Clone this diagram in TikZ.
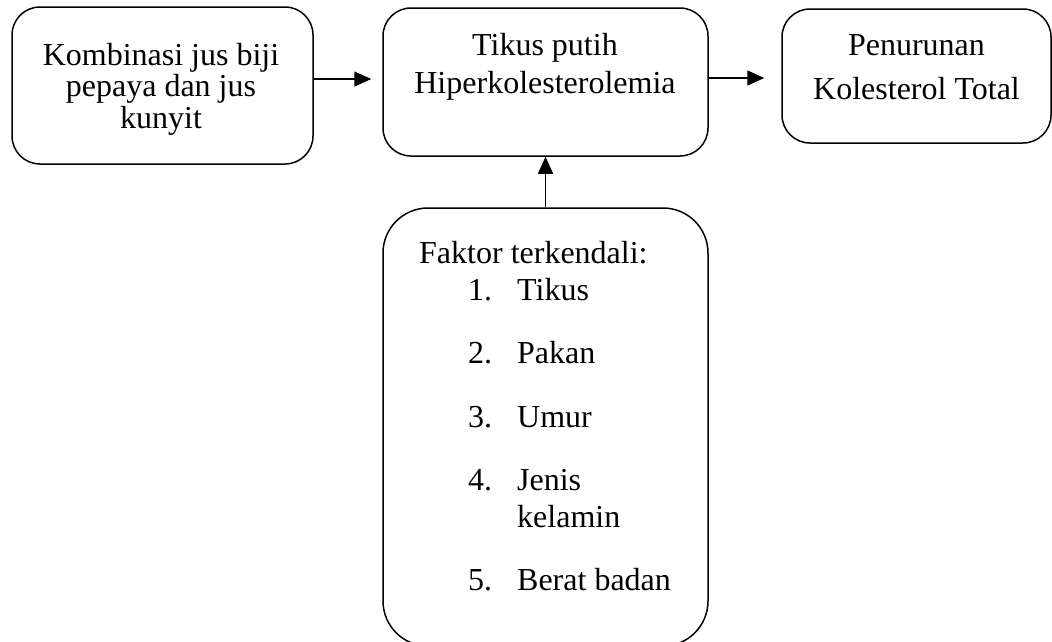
\documentclass[tikz,border=0pt]{standalone}
\usepackage{fontspec}
\setmainfont{Liberation Serif}
\usetikzlibrary{arrows.meta}
\begin{document}
\begin{tikzpicture}[x=1pt,y=-1pt,
  box/.style={draw, line width=1.5pt, rounded corners=28pt, inner sep=0pt},
  bigbox/.style={box, rounded corners=45pt},
  arr/.style={line width=1.5pt, -{Triangle[length=17pt,width=15pt]}},
  lbl/.style={inner sep=0pt, anchor=base, align=center},
  itm/.style={inner sep=0pt, anchor=base west, align=left, font=\fontsize{32}{37}\selectfont}]
\clip (0,0) rectangle (1052,641);
\useasboundingbox (0,0) rectangle (1052,641);
% boxes
\node[box, minimum width=301pt, minimum height=157pt] (b1) at (162.5,85.5) {};
\node[box, minimum width=325pt, minimum height=148pt] (b2) at (545.5,82) {};
\node[box, minimum width=269pt, minimum height=134pt] (b3) at (916.5,76) {};
\node[bigbox, minimum width=325pt, minimum height=438pt] (b4) at (545.5,427) {};
% texts (base anchor = baseline of last line)
\node[lbl, font=\fontsize{32}{31.5}\selectfont] (t1) at (161,128) {Kombinasi jus biji\\pepaya dan jus\\kunyit};
\node[lbl, font=\fontsize{32}{38}\selectfont] (t2) at (545,93) {Tikus putih\\Hiperkolesterolemia};
\node[lbl, font=\fontsize{32}{44}\selectfont] (t3) at (916.5,99) {Penurunan\\Kolesterol Total};
\node[itm] (f0) at (419,263) {Faktor terkendali:};
\node[itm] (f1) at (468,300) {\makebox[49pt][l]{1.}Tikus};
\node[itm] (f2) at (468,363) {\makebox[49pt][l]{2.}Pakan};
\node[itm] (f3) at (468,427) {\makebox[49pt][l]{3.}Umur};
\node[itm] (f4) at (468,527) {\makebox[49pt][l]{4.}Jenis\\\hspace*{49pt}kelamin};
\node[itm] (f5) at (468,590) {\makebox[49pt][l]{5.}Berat badan};
% connectors
\coordinate (r1) at (0,79);
\coordinate (r2) at (0,78);
\draw[arr, shorten >=11pt] (b1.east |- r1) -- (b2.west |- r1);
\draw[arr, shorten >=17pt] (b2.east |- r2) -- (b3.west |- r2);
\draw[arr] (b4.north) -- (b2.south);
\end{tikzpicture}
\end{document}
